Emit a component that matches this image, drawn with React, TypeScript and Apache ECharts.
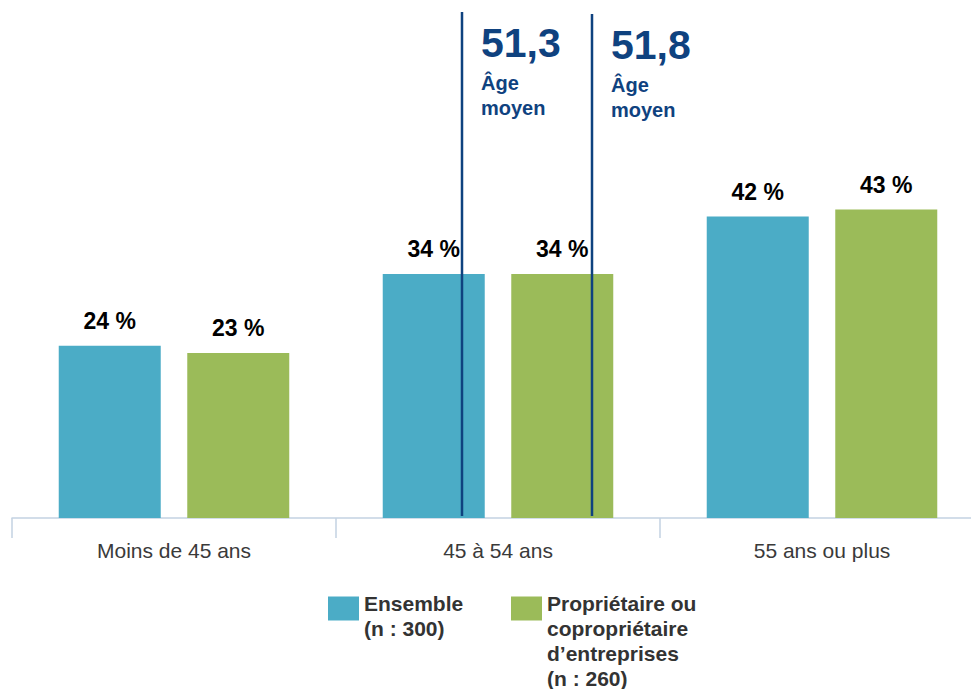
import React, { useEffect, useRef } from 'react';
import * as echarts from 'echarts';

const categories = ['Moins de 45 ans', '45 à 54 ans', '55 ans ou plus'];
const ensembleValues = [24, 34, 42];
const proprietaireValues = [23, 34, 43];
const seriesNames = [
  'Ensemble\n(n : 300)',
  'Propriétaire ou\ncopropriétaire\nd’entreprises\n(n : 260)',
];
const avgAges = ['51,3', '51,8'];
const avgLabelLines = ['Âge', 'moyen'];

const FONT = '"Liberation Sans", Arial, sans-serif';
const BLUE = '#4bacc6';
const GREEN = '#9bbb59';
const NAVY = '#0f427f';

function legendFor(name: string, left: number, top: number, spacer: number) {
  return {
    data: [name],
    left,
    top,
    padding: 0,
    itemWidth: 31,
    itemHeight: 24,
    itemGap: 6,
    selectedMode: false,
    icon: 'rect',
    formatter: (n: string) =>
      '{s|\u00a0}\n' + n.split('\n').map((l) => `{t|${l}}`).join('\n'),
    textStyle: {
      fontFamily: FONT,
      fontSize: 21,
      fontWeight: 'bold',
      color: '#333',
      rich: {
        s: { fontSize: 10, lineHeight: spacer, height: spacer },
        t: { fontFamily: FONT, fontSize: 21, fontWeight: 'bold', color: '#333', lineHeight: 25 },
      },
    },
  };
}

export default function App() {
  const ref = useRef<HTMLDivElement>(null);
  useEffect(() => {
    if (!ref.current) return;
    const chart = echarts.init(ref.current, undefined, { renderer: 'svg' });

    const lineX = [462, 592];
    const lineTop = [12, 14];
    const graphic: any[] = [];
    avgAges.forEach((age, i) => {
      graphic.push({
        type: 'line',
        shape: { x1: lineX[i], y1: lineTop[i], x2: lineX[i], y2: 516 },
        style: { stroke: NAVY, lineWidth: 2.5 },
        z: 100,
      });
      const tx = lineX[i] + 19;
      const dy = i * 2;
      graphic.push({
        type: 'text',
        x: tx,
        y: 43 + dy,
        style: { text: age, font: `bold 41px ${FONT}`, fill: NAVY, verticalAlign: 'middle', align: 'left' },
        z: 100,
      });
      avgLabelLines.forEach((t, j) => {
        graphic.push({
          type: 'text',
          x: tx,
          y: 83 + dy + j * 25,
          style: { text: t, font: `bold 20px ${FONT}`, fill: NAVY, verticalAlign: 'middle', align: 'left' },
          z: 100,
        });
      });
    });

    const labelStyle = {
      show: true,
      position: 'top',
      distance: 13,
      formatter: '{c} %',
      fontFamily: FONT,
      fontWeight: 'bold',
      fontSize: 23,
      color: '#000',
    };

    chart.setOption({
      animation: false,
      grid: { left: 12, width: 972, top: 12, height: 506 },
      xAxis: {
        type: 'category',
        data: categories,
        axisLine: { lineStyle: { color: '#c3d2e2', width: 1.5 } },
        axisTick: { show: true, length: 20, lineStyle: { color: '#c3d2e2', width: 1.5 } },
        axisLabel: { color: '#3a3a3a', fontSize: 21, fontFamily: FONT, margin: 22 },
      },
      yAxis: { type: 'value', min: 0, max: 70.5, show: false },
      legend: [
        legendFor(seriesNames[0], 328, 576, 15),
        legendFor(seriesNames[1], 511, 526, 65),
      ],
      series: [
        {
          name: seriesNames[0],
          type: 'bar',
          data: ensembleValues,
          barWidth: 102,
          barGap: '26%',
          itemStyle: { color: BLUE },
          label: labelStyle,
        },
        {
          name: seriesNames[1],
          type: 'bar',
          data: proprietaireValues,
          barWidth: 102,
          barGap: '26%',
          itemStyle: { color: GREEN },
          label: labelStyle,
        },
      ],
      graphic,
    });
    return () => chart.dispose();
  }, []);
  return (
    <div style={{ position: 'absolute', left: 0, top: 0, width: 971, height: 689, overflow: 'hidden' }}>
      <div ref={ref} style={{ width: 1000, height: 689 }} />
    </div>
  );
}
